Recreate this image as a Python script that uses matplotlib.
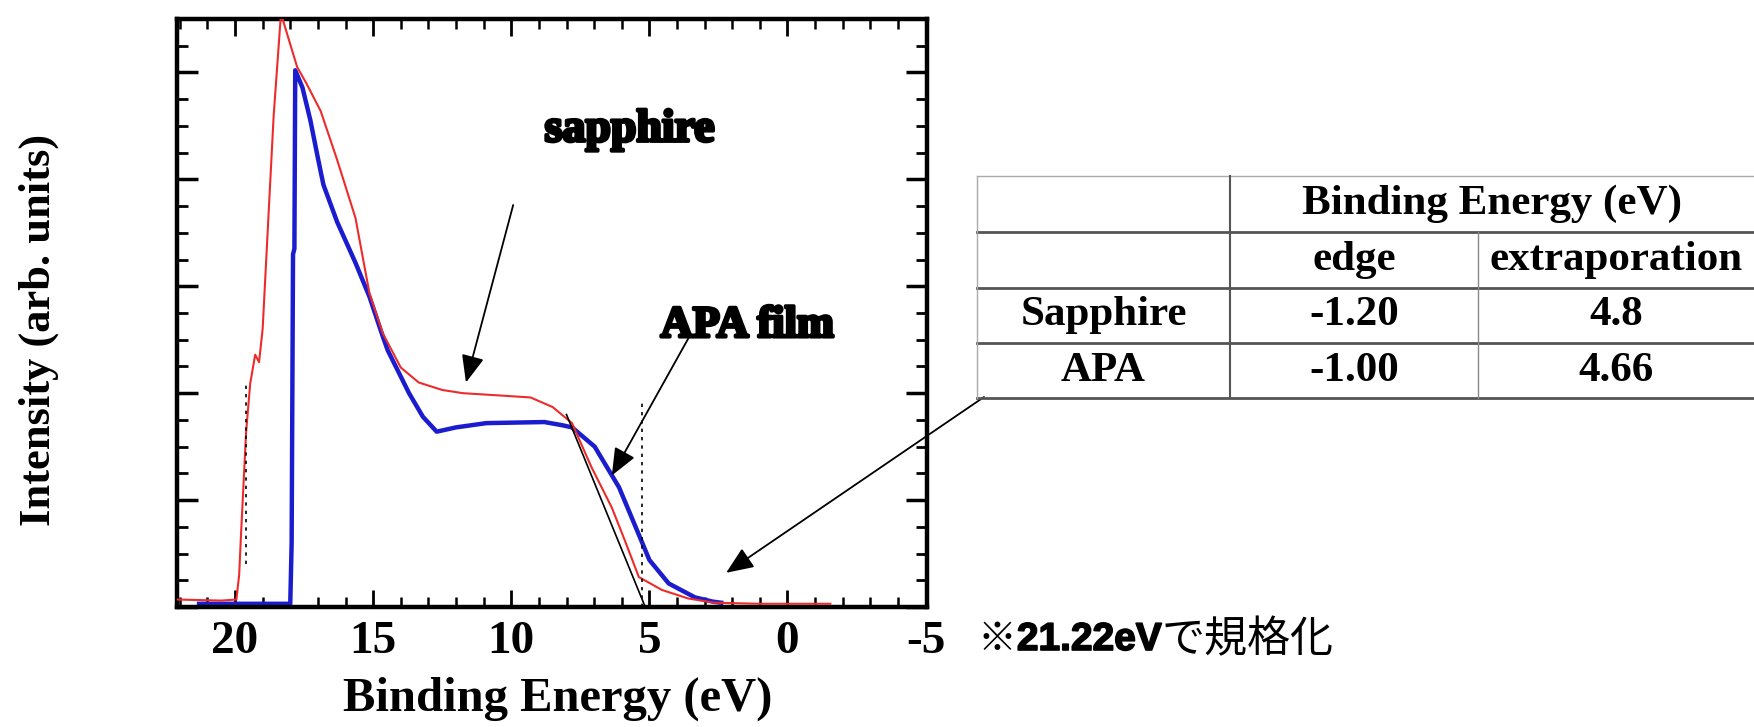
import numpy as np
import matplotlib.pyplot as plt
from matplotlib.ticker import MultipleLocator
from matplotlib.lines import Line2D
import matplotlib.patheffects as pe

plt.rcParams['axes.unicode_minus'] = False
plt.rcParams['font.family'] = ['Liberation Serif', 'DejaVu Serif']

# UPS spectra (binding energy in eV, intensity arb.)
sapphire_ev = [22.1, 20.5, 19.95, 19.85, 19.78, 19.6, 19.45, 19.27, 19.13, 19.0,
               18.8, 18.6, 18.35, 18.3, 17.75, 17.42, 16.9, 16.3, 15.64, 15.13,
               14.65, 14.0, 13.35, 12.5, 11.75, 10.5, 9.3, 8.5, 7.8, 7.1,
               6.36, 5.9, 5.38, 4.55, 3.6, 2.65, 1.0, -1.55]
sapphire_int = [0.07, 0.06, 0.07, 0.3, 0.69, 1.63, 2.09, 2.36, 2.29, 2.6,
                3.6, 4.6, 5.5, 5.52, 5.05, 4.9, 4.64, 4.18, 3.64, 2.93,
                2.56, 2.24, 2.10, 2.03, 2.0, 1.98, 1.96, 1.87, 1.72, 1.31,
                0.93, 0.63, 0.28, 0.16, 0.08, 0.04, 0.03, 0.03]

apa_ev = [21.3, 18.0, 17.95, 17.9, 17.85, 17.82, 17.56, 17.27, 17.0, 16.8,
          16.3, 15.64, 15.13, 14.65, 14.47, 13.7, 13.2, 12.7, 12.0, 10.9,
          8.8, 8.15, 7.8, 6.98, 6.1, 5.5, 5.0, 4.3, 3.35, 2.7, 2.4]
apa_int = [0.03, 0.03, 0.6, 3.3, 3.35, 5.02, 4.86, 4.55, 4.2, 3.95,
           3.6, 3.22, 2.9, 2.53, 2.4, 2.0, 1.78, 1.64, 1.68, 1.72,
           1.73, 1.70, 1.68, 1.5, 1.12, 0.75, 0.44, 0.22, 0.09, 0.05, 0.04]

# extrapolation of the valence band edge
extrap_ev = [8.0, 5.15]
extrap_int = [1.80, 0.0]

# dotted marker lines (eV, y from, y to)
marks_ev = [5.27, 19.6]
marks_lo = [0.0, 0.4]
marks_hi = [1.95, 2.1]

# table
tbl_header = 'Binding Energy (eV)'
tbl_cols = ['edge', 'extraporation']
tbl_rows = ['Sapphire', 'APA']
tbl_cells = [['-1.20', '4.8'], ['-1.00', '4.66']]

W, H = 1754, 727
fig = plt.figure(figsize=(W / 100, H / 100), dpi=100)
ax = fig.add_axes([177 / W, 1 - 607 / H, 750 / W, 588 / H])


def fx(px):
    return px / W


def fy(py):
    return 1 - py / H


ax.plot(sapphire_ev, sapphire_int, color='#ee2b2b', lw=1.5, zorder=3)
ax.plot(apa_ev, apa_int, color='#1c1ccf', lw=3.2, zorder=2)
ax.plot(extrap_ev, extrap_int, color='black', lw=1.2, zorder=4)
for xe, lo, hi in zip(marks_ev, marks_lo, marks_hi):
    ax.plot([xe, xe], [lo, hi], color='black', lw=1.2, ls=(0, (2, 3)), zorder=4)

ax.set_xlim(22.1, -5.05)
ax.set_ylim(0, 5.5)
ax.xaxis.set_major_locator(MultipleLocator(5))
ax.xaxis.set_minor_locator(MultipleLocator(1))
ax.yaxis.set_major_locator(MultipleLocator(1))
ax.yaxis.set_minor_locator(MultipleLocator(0.25))
ax.tick_params(which='both', direction='in', top=True, right=True, labelleft=False)
ax.tick_params(axis='x', which='major', length=12, width=2, pad=10, labelsize=34)
ax.tick_params(axis='x', which='minor', length=7, width=1.8)
ax.tick_params(axis='y', which='major', length=15, width=2.5)
ax.tick_params(axis='y', which='minor', length=8, width=2)
for lab in ax.get_xticklabels():
    lab.set_fontweight('bold')
for sp in ax.spines.values():
    sp.set_linewidth(3.2)

ax.set_xlabel('Binding Energy (eV)', fontsize=35, fontweight='bold')
ax.xaxis.set_label_coords(0.507, -0.118)
ax.xaxis.label.set_va('top')
ax.set_ylabel('Intensity (arb. units)', fontsize=32, fontweight='bold', va='center')
ax.yaxis.set_label_coords(-0.184, 0.471)

heavy = [pe.withStroke(linewidth=2.5, foreground='black')]
ax.text(5.71, 4.46, 'sapphire', fontsize=33, fontweight='bold', ha='center', va='center',
        path_effects=heavy)
ax.text(1.45, 2.63, 'APA film', fontsize=32, fontweight='bold', ha='center', va='center',
        path_effects=heavy)

arrow = dict(arrowstyle='-|>,head_length=0.6,head_width=0.25', color='black', lw=1.3,
             mutation_scale=28, shrinkA=0, shrinkB=0)
ax.annotate('', xy=(11.64, 2.1), xytext=(9.93, 3.76), arrowprops=arrow)
ax.annotate('', xy=(6.36, 1.23), xytext=(3.53, 2.54), arrowprops=arrow)
ax.annotate('', xy=(2.22, 0.32), xytext=(fx(984), fy(397)),
            textcoords='figure fraction', arrowprops=arrow, annotation_clip=False)

# note beside the -5 label
t1 = fig.text(fx(978), fy(640), '※', fontsize=28, va='center', ha='left',
              family=['Noto Sans CJK JP', 'DejaVu Sans'])
t2 = ax.annotate('21.22eV', xy=(1, 0.5), xycoords=t1, fontsize=28, fontweight='bold',
                 va='center', ha='left', family=['Liberation Sans', 'DejaVu Sans'],
                 path_effects=[pe.withStroke(linewidth=1.2, foreground='black')])
ax.annotate('で規格化', xy=(1, 0.5), xycoords=t2, fontsize=31, va='center', ha='left',
            family=['Noto Sans CJK JP', 'DejaVu Sans'])

# table drawn by hand (header cell spans two columns)
tl, tr = 977, 1754
row_y = [176, 232, 288, 343, 398]
col_x = [977, 1230, 1478, 1754]
fig.add_artist(Line2D([fx(tl), fx(tr)], [fy(row_y[0])] * 2, transform=fig.transFigure,
                      color='#aaaaaa', lw=1))
for yy in row_y[1:]:
    fig.add_artist(Line2D([fx(tl), fx(tr)], [fy(yy)] * 2, transform=fig.transFigure,
                          color='#555555', lw=2))
fig.add_artist(Line2D([fx(tl)] * 2, [fy(row_y[0]), fy(row_y[-1])], transform=fig.transFigure,
                      color='#aaaaaa', lw=1))
fig.add_artist(Line2D([fx(col_x[1])] * 2, [fy(row_y[0]), fy(row_y[-1])],
                      transform=fig.transFigure, color='#555555', lw=1.5))
fig.add_artist(Line2D([fx(col_x[2])] * 2, [fy(row_y[1]), fy(row_y[-1])],
                      transform=fig.transFigure, color='#888888', lw=1))

tkw = dict(fontsize=31, fontweight='bold', ha='center', va='center')
mid = lambda a, b: (a + b) / 2
fig.text(fx(mid(col_x[1], col_x[3])), fy(mid(row_y[0], row_y[1])), tbl_header, **tkw)
for j, c in enumerate(tbl_cols):
    fig.text(fx(mid(col_x[j + 1], col_x[j + 2])), fy(mid(row_y[1], row_y[2])), c, **tkw)
for i, r in enumerate(tbl_rows):
    yc = fy(mid(row_y[i + 2], row_y[i + 3]))
    fig.text(fx(mid(col_x[0], col_x[1])), yc, r, **tkw)
    for j, v in enumerate(tbl_cells[i]):
        fig.text(fx(mid(col_x[j + 1], col_x[j + 2])), yc, v, **tkw)

fig.savefig('out.png', dpi=100, facecolor='white')
